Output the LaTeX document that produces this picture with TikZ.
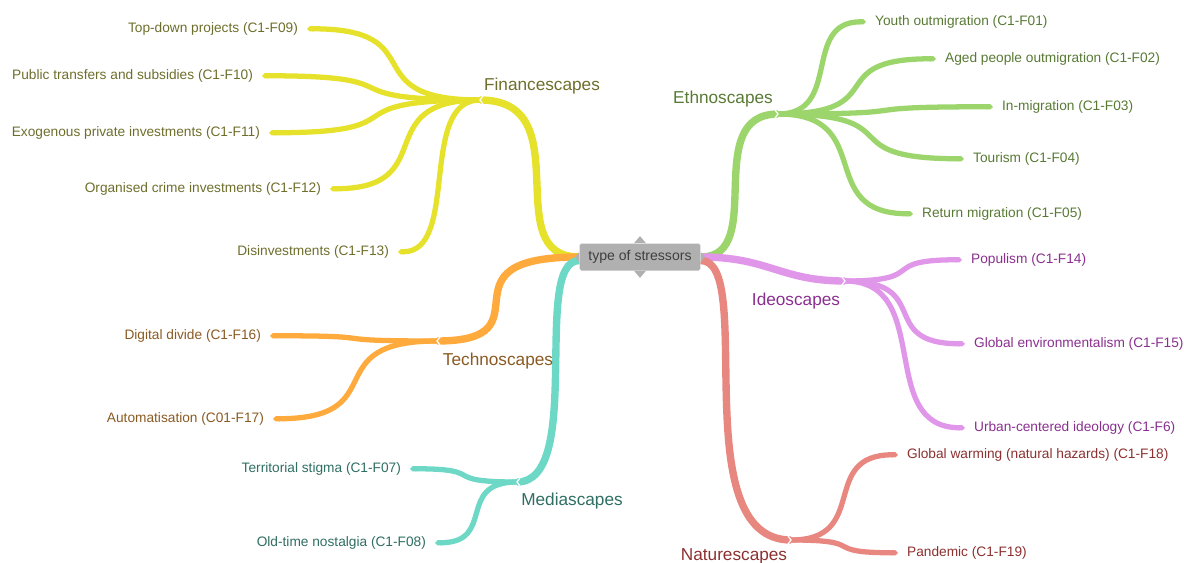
\documentclass[tikz,border=0pt]{standalone}
\usepackage{fontspec}
\setmainfont{Liberation Sans}
\usetikzlibrary{arrows.meta, backgrounds}
\definecolor{TSgray}{HTML}{B0B0B0}
\definecolor{TSgrayD}{HTML}{3F3F3F}
\definecolor{TSyellow}{HTML}{E6E22C}
\definecolor{TSyellowD}{HTML}{6E6E2C}
\definecolor{TSgreen}{HTML}{9CD56C}
\definecolor{TSgreenD}{HTML}{587A34}
\definecolor{TSviolet}{HTML}{E197E9}
\definecolor{TSvioletD}{HTML}{8A2F8F}
\definecolor{TSorange}{HTML}{FFAA3D}
\definecolor{TSorangeD}{HTML}{8A5A22}
\definecolor{TSteal}{HTML}{6DD8C5}
\definecolor{TStealD}{HTML}{2F6E62}
\definecolor{TSsalmon}{HTML}{E8877F}
\definecolor{TSsalmonD}{HTML}{8C3030}
\tikzset{
  tsroot/.style={
    rectangle, rounded corners=1pt, fill=TSgray, text=TSgrayD, inner sep=0pt,
    minimum width=2.42cm, minimum height=0.54cm, font=\fontsize{8}{9}\selectfont},
  tshead/.style={font=\fontsize{9.8}{11}\selectfont, inner sep=0pt, yshift=-1pt},
  tsleaf/.style={font=\fontsize{7.8}{9}\selectfont, inner xsep=5pt, inner ysep=1pt, yshift=-1pt},
  tsleafL/.style={tsleaf, anchor=east},
  tsleafR/.style={tsleaf, anchor=west},
  tsbranch/.style={line width=4.2pt, line cap=butt},
  tstwig/.style={line width=3pt, line cap=butt, -{Triangle Cap[]}},
  tsnotch/.style={draw=white, line width=0.7pt},
}

\begin{document}
\begin{tikzpicture}[x=0.02cm, y=-0.02cm]
  \useasboundingbox (0,0) rectangle (1184,562);
  % centre
  \node[tsroot] (root) at (640,257) {type of stressors};
  \fill[TSgray] (root.north) ++(-6,0) -- ++(6,-7) -- ++(6,7) -- cycle;
  \fill[TSgray] (root.south) ++(-6,0) -- ++(6,7) -- ++(6,-7) -- cycle;
  \fill[TSgray] (root.west) ++(0,-5) -- ++(-4,5) -- ++(4,5) -- cycle;
  \fill[TSgray] (root.east) ++(0,-5) -- ++(4,5) -- ++(-4,5) -- cycle;

  % junctions
  \coordinate (fin)  at (480,100);
  \coordinate (tech) at (437,341);
  \coordinate (med)  at (517,482);
  \coordinate (eth)  at (778,114);
  \coordinate (ideo) at (845,281);
  \coordinate (nat)  at (791,540);

  % headings
  \node[tshead, text=TSyellowD] (finh)  at (542,84)  {Financescapes};
  \node[tshead, text=TSorangeD] (techh) at (498,359) {Technoscapes};
  \node[tshead, text=TStealD]   (medh)  at (572,499) {Mediascapes};
  \node[tshead, text=TSgreenD]  (ethh)  at (723,97)  {Ethnoscapes};
  \node[tshead, text=TSvioletD] (ideoh) at (796,299) {Ideoscapes};
  \node[tshead, text=TSsalmonD] (nath)  at (734,555) {Naturescapes};

  % leaves, left
  \node[tsleafL, text=TSyellowD] (f09) at (307,27)  {Top-down projects (C1-F09)};
  \node[tsleafL, text=TSyellowD] (f10) at (262,74)  {Public transfers and subsidies (C1-F10)};
  \node[tsleafL, text=TSyellowD] (f11) at (269,131) {Exogenous private investments (C1-F11)};
  \node[tsleafL, text=TSyellowD] (f12) at (330,187) {Organised crime investments (C1-F12)};
  \node[tsleafL, text=TSyellowD] (f13) at (398,250) {Disinvestments (C1-F13)};
  \node[tsleafL, text=TSorangeD] (t16) at (270,334) {Digital divide (C1-F16)};
  \node[tsleafL, text=TSorangeD] (t17) at (273,417) {Automatisation (C01-F17)};
  \node[tsleafL, text=TStealD]   (m07) at (410,467) {Territorial stigma (C1-F07)};
  \node[tsleafL, text=TStealD]   (m08) at (435,541) {Old-time nostalgia (C1-F08)};
  % leaves, right
  \node[tsleafR, text=TSgreenD]  (e01) at (866,20)  {Youth outmigration (C1-F01)};
  \node[tsleafR, text=TSgreenD]  (e02) at (936,57)  {Aged people outmigration (C1-F02)};
  \node[tsleafR, text=TSgreenD]  (e03) at (993,105) {In-migration (C1-F03)};
  \node[tsleafR, text=TSgreenD]  (e04) at (964,157) {Tourism (C1-F04)};
  \node[tsleafR, text=TSgreenD]  (e05) at (913,212) {Return migration (C1-F05)};
  \node[tsleafR, text=TSvioletD] (i14) at (962,258) {Populism (C1-F14)};
  \node[tsleafR, text=TSvioletD] (i15) at (965,342) {Global environmentalism (C1-F15)};
  \node[tsleafR, text=TSvioletD] (i16) at (965,426) {Urban-centered ideology (C1-F6)};
  \node[tsleafR, text=TSsalmonD] (n18) at (898,453) {Global warming (natural hazards) (C1-F18)};
  \node[tsleafR, text=TSsalmonD] (n19) at (898,551) {Pandemic (C1-F19)};

  \begin{scope}[on background layer]
    % main branches
    \draw[tsbranch, TSyellow] (fin)  .. controls +(102,0) and +(-83,0) .. (root.west);
    \draw[tsbranch, TSorange] (tech) .. controls +(117,0) and +(-148,0) .. (root.west);
    \draw[tsbranch, TSteal]   (med)  .. controls +(68,0) and +(-48,0) .. ([yshift=-2pt]root.west);
    \draw[tsbranch, TSgreen]  (eth)  .. controls +(-78,0) and +(67,0) .. (root.east);
    \draw[tsbranch, TSviolet] (ideo) .. controls +(-65,0) and +(68,0) .. (root.east);
    \draw[tsbranch, TSsalmon] (nat)  .. controls +(-108,0) and +(56,0) .. ([yshift=-2pt]root.east);
    % twigs
    \foreach \leaf/\dx in {f09/129, f10/163, f11/158, f12/113, f13/62}
      \draw[tstwig, TSyellow] (fin) .. controls +(-\dx,0) and +(\dx,0) .. (\leaf.east);
    \foreach \leaf/\dx in {t16/125, t17/123}
      \draw[tstwig, TSorange] (tech) .. controls +(-\dx,0) and +(\dx,0) .. (\leaf.east);
    \foreach \leaf/\dx in {m07/80, m08/62}
      \draw[tstwig, TSteal] (med) .. controls +(-\dx,0) and +(\dx,0) .. (\leaf.east);
    \foreach \leaf/\dx in {e01/65, e02/117, e03/160, e04/138, e05/100}
      \draw[tstwig, TSgreen] (eth) .. controls +(\dx,0) and +(-\dx,0) .. (\leaf.west);
    \foreach \leaf/\dx in {i14/86, i15/90, i16/90}
      \draw[tstwig, TSviolet] (ideo) .. controls +(\dx,0) and +(-\dx,0) .. (\leaf.west);
    \foreach \leaf/\dx in {n18/80, n19/80}
      \draw[tstwig, TSsalmon] (nat) .. controls +(\dx,0) and +(-\dx,0) .. (\leaf.west);
    % notches at the junctions
    \foreach \j/\s in {fin/1, tech/1, med/1, eth/-1, ideo/-1, nat/-1}
      \draw[tsnotch] (\j) ++({\s*3},-4) -- ++({-\s*3},4) -- ++({\s*3},4);
  \end{scope}
\end{tikzpicture}
\end{document}
